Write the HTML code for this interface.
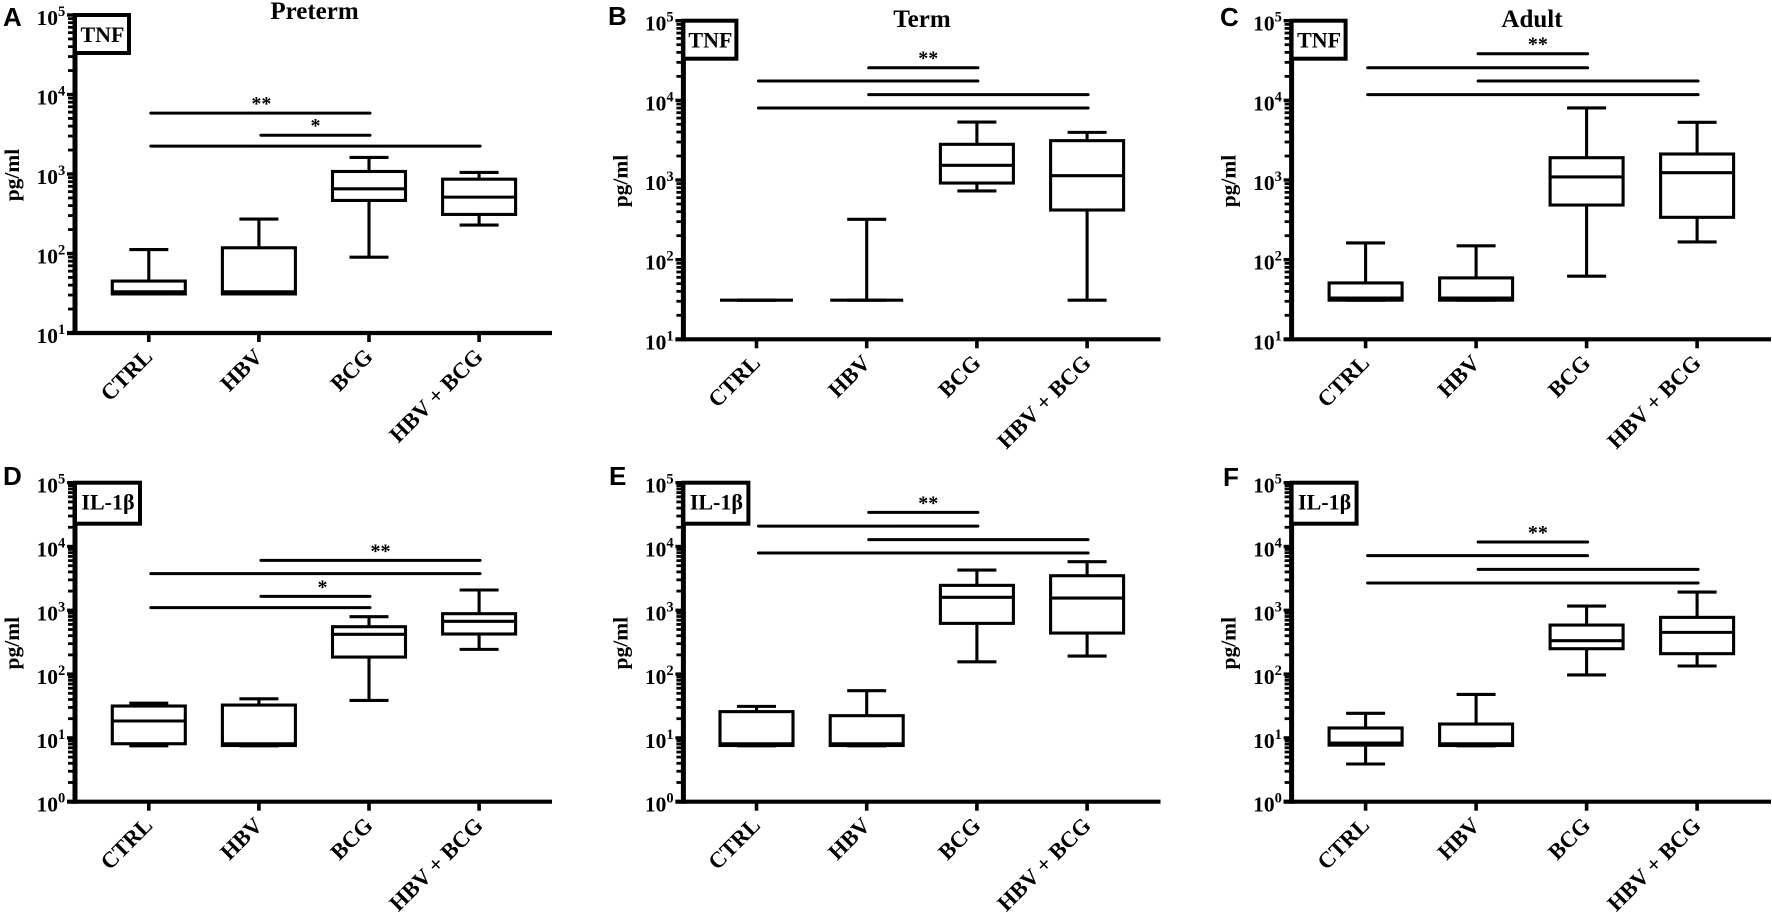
<!DOCTYPE html>
<html lang="en">
<head>
<meta charset="utf-8">
<title>Cytokine box plots</title>
<style>
html,body{margin:0;padding:0;background:#fff;}
svg{display:block;filter:blur(0.35px);}
text{font-family:"Liberation Serif",serif;font-weight:bold;fill:#000;}
text.panel-letter{font-family:"Liberation Sans",sans-serif;}
</style>
</head>
<body>
<svg id="figure" xmlns="http://www.w3.org/2000/svg" width="1772" height="912" viewBox="0 0 1772 912"></svg>
<script>
// Shared categories and labels
const categories = ['CTRL', 'HBV', 'BCG', 'HBV + BCG'];
const yLabel = 'pg/ml';
const tnfExponents = [1, 2, 3, 4, 5];
const il1Exponents = [0, 1, 2, 3, 4, 5];
const letters = ['A', 'B', 'C', 'D', 'E', 'F'];
const titles = ['Preterm', 'Term', 'Adult', '', '', ''];
const cytokines = ['TNF', 'TNF', 'TNF', 'IL-1β', 'IL-1β', 'IL-1β'];

// Box values: min, q1, median, q3, max (pg/ml)
const aCtrl = [31, 31, 33, 45, 112];
const aHbv = [31, 31, 33, 118, 271];
const aBcg = [90, 465, 652, 1076, 1614];
const aBoth = [228, 310, 512, 861, 1045];

const bCtrl = [31, 31, 31, 31, 31];
const bHbv = [31, 31, 31, 31, 321];
const bBcg = [728, 916, 1528, 2805, 5346];
const bBoth = [31, 420, 1133, 3119, 3963];

const cCtrl = [31, 31, 33, 51, 162];
const cHbv = [31, 31, 33, 59, 149];
const cBcg = [62, 485, 1091, 1905, 8020];
const cBoth = [167, 340, 1236, 2120, 5300];

const dCtrl = [7.5, 8.1, 18.4, 31.6, 35];
const dHbv = [7.5, 7.6, 8.1, 32.7, 41];
const dBcg = [38.7, 185, 420, 553, 794];
const dBoth = [244, 425, 671, 885, 2080];

const eCtrl = [7.5, 7.6, 8.1, 25.8, 31.2];
const eHbv = [7.5, 7.6, 8.1, 22.3, 55];
const eBcg = [156, 624, 1596, 2460, 4275];
const eBoth = [192, 440, 1556, 3483, 5780];

const fCtrl = [3.9, 7.7, 8.3, 14.3, 24.3];
const fHbv = [7.5, 7.6, 8.1, 16.5, 48];
const fBcg = [97, 250, 334, 587, 1167];
const fBoth = [134, 209, 451, 775, 1932];

// Significance bars: from-group, to-group, height in pg/ml, marker
const aSigFrom = [0, 1, 0];
const aSigTo = [2, 2, 3];
const aSigValue = [5822, 3075, 2239];
const aSigMark = ['**', '*', ''];

const bSigFrom = [1, 0, 1, 0];
const bSigTo = [2, 2, 3, 3];
const bSigValue = [25700, 17500, 11780, 8020];
const bSigMark = ['**', '', '', ''];

const cSigFrom = [1, 0, 1, 0];
const cSigTo = [2, 2, 3, 3];
const cSigValue = [38500, 25700, 17500, 11780];
const cSigMark = ['**', '', '', ''];

const dSigFrom = [1, 0, 1, 0];
const dSigTo = [3, 3, 2, 2];
const dSigValue = [6067, 3750, 1653, 1099];
const dSigMark = ['**', '', '*', ''];

const eSigFrom = [1, 0, 1, 0];
const eSigTo = [2, 2, 3, 3];
const eSigValue = [34300, 20900, 12790, 7900];
const eSigMark = ['**', '', '', ''];

const fSigFrom = [1, 0, 1, 0];
const fSigTo = [2, 2, 3, 3];
const fSigValue = [11750, 7180, 4385, 2674];
const fSigMark = ['**', '', '', ''];

const SVG_NS = 'http://www.w3.org/2000/svg';
const figure = document.getElementById('figure');

function add(parent, tag, attrs, content) {
  const node = document.createElementNS(SVG_NS, tag);
  for (const key in attrs) node.setAttribute(key, attrs[key]);
  if (content !== undefined) node.textContent = content;
  parent.appendChild(node);
  return node;
}

function drawPanel(p) {
  const group = add(figure, 'g', {});
  
  

  const exps = p.exponents;
  const minExp = exps[0];
  const maxExp = exps[exps.length - 1];
  const yScale = v => p.bottom - (Math.log10(v) - minExp) * (p.bottom - p.top) / (maxExp - minExp);
  const xScale = i => p.x0 + i * p.step;

  // Panel letter
  const letter = add(group, 'text', { x: p.letterX, y: p.letterY, 'font-size': 26, class: 'panel-letter' }, p.letter);
  
  

  // Title
  if (p.title) {
    const title = add(group, 'text', { x: p.titleX, y: p.titleY, 'font-size': 25, 'text-anchor': 'middle' }, p.title);
    
    
  }

  // Y axis minor ticks
  for (let e = minExp; e < maxExp; e++) {
    for (let m = 2; m <= 9; m++) {
      const y = yScale(m * Math.pow(10, e));
      const minor = add(group, 'line', { x1: p.spine - 7, x2: p.spine, y1: y, y2: y, stroke: '#000', 'stroke-width': 2.8 });
      
      
    }
  }

  // Y axis major ticks and labels
  exps.forEach(e => {
    const y = yScale(Math.pow(10, e));
    const major = add(group, 'line', { x1: p.spine - 8, x2: p.spine, y1: y, y2: y, stroke: '#000', 'stroke-width': 3.4 });
    
    
    const label = add(group, 'text', { x: p.spine - 38.5, y: y + 10, 'font-size': 21.5 });
    
    
    add(label, 'tspan', {}, '10');
    add(label, 'tspan', { 'font-size': 14.5, dy: -9 }, String(e));
  });

  // Axis lines
  const spine = add(group, 'line', { x1: p.spine, x2: p.spine, y1: p.top - 1.5, y2: p.bottom + 2, stroke: '#000', 'stroke-width': 5 });
  
  
  const xAxis = add(group, 'line', { x1: p.spine - 8, x2: p.axisEnd, y1: p.bottom, y2: p.bottom, stroke: '#000', 'stroke-width': 4.2 });
  
  

  // Y axis title
  const midY = (p.top + p.bottom) / 2;
  const yTitleX = p.spine - 56;
  const yTitle = add(group, 'text', { x: yTitleX, y: midY + 1, 'font-size': 21.5, 'text-anchor': 'middle', transform: 'rotate(-90 ' + yTitleX + ' ' + (midY + 1) + ')' }, yLabel);
  
  

  // X ticks and labels
  categories.forEach((cat, i) => {
    const x = xScale(i);
    const tick = add(group, 'line', { x1: x, x2: x, y1: p.bottom, y2: p.bottom + 9, stroke: '#000', 'stroke-width': 3.6 });
    
    
    const lx = x + 5;
    const ly = p.bottom + 25;
    const label = add(group, 'text', { x: lx, y: ly, 'font-size': 22.5, 'text-anchor': 'end', transform: 'rotate(-45 ' + lx + ' ' + ly + ')' }, cat);
    
    
  });

  // Box plots
  p.series.forEach((s, i) => {
    const cx = xScale(i);
    const box = add(group, 'g', { fill: 'none', stroke: '#000', 'stroke-width': 3.1 });
    
    
    const yMin = yScale(s[0]);
    const yQ1 = yScale(s[1]);
    const yMed = yScale(s[2]);
    const yQ3 = yScale(s[3]);
    const yMax = yScale(s[4]);
    const upper = add(box, 'line', { x1: cx, x2: cx, y1: yQ3, y2: yMax });
    
    
    const lower = add(box, 'line', { x1: cx, x2: cx, y1: yQ1, y2: yMin });
    
    
    const capTop = add(box, 'line', { x1: cx - 19.5, x2: cx + 19.5, y1: yMax, y2: yMax });
    
    
    const capBottom = add(box, 'line', { x1: cx - 19.5, x2: cx + 19.5, y1: yMin, y2: yMin });
    
    
    const rect = add(box, 'rect', { x: cx - 36.5, y: yQ3, width: 73, height: yQ1 - yQ3 });
    
    
    const median = add(box, 'line', { x1: cx - 36.5, x2: cx + 36.5, y1: yMed, y2: yMed });
    
    
  });

  // Significance bars
  p.sigValue.forEach((v, i) => {
    const y = yScale(v);
    const x1 = xScale(p.sigFrom[i]) + 2;
    const x2 = xScale(p.sigTo[i]) + 1;
    const bar = add(group, 'line', { x1: x1, x2: x2, y1: y, y2: y, stroke: '#000', 'stroke-width': 3, 'stroke-linecap': 'round' });
    
    
    if (p.sigMark[i]) {
      const mark = add(group, 'text', { x: (x1 + x2) / 2 + p.markDx[i], y: y - 3, 'font-size': 20, 'text-anchor': 'middle' }, p.sigMark[i]);
      
      
    }
  });

  // Cytokine label box
  const labelBox = add(group, 'rect', { x: p.spine, y: p.top, width: p.boxW, height: p.boxH, fill: '#fff', stroke: '#000', 'stroke-width': 4 });
  
  
  const labelText = add(group, 'text', { x: p.spine + p.boxW / 2 + 0.5, y: p.top + 27, 'font-size': 22, 'text-anchor': 'middle' }, p.cytokine);
  
  
}

drawPanel({ letter: letters[0], title: titles[0], cytokine: cytokines[0], exponents: tnfExponents,
  series: [aCtrl, aHbv, aBcg, aBoth], sigFrom: aSigFrom, sigTo: aSigTo, sigValue: aSigValue, sigMark: aSigMark, markDx: [1, 0, 0],
  spine: 75, top: 15, bottom: 333, x0: 148.8, step: 110.1, axisEnd: 552, boxW: 54, boxH: 38,
  letterX: 3, letterY: 26, titleX: 314.5, titleY: 19 });

drawPanel({ letter: letters[1], title: titles[1], cytokine: cytokines[1], exponents: tnfExponents,
  series: [bCtrl, bHbv, bBcg, bBoth], sigFrom: bSigFrom, sigTo: bSigTo, sigValue: bSigValue, sigMark: bSigMark, markDx: [5, 0, 0, 0],
  spine: 683.4, top: 20.7, bottom: 339.3, x0: 756.5, step: 110.2, axisEnd: 1160.5, boxW: 53, boxH: 38,
  letterX: 608, letterY: 25, titleX: 922, titleY: 27 });

drawPanel({ letter: letters[2], title: titles[2], cytokine: cytokines[2], exponents: tnfExponents,
  series: [cCtrl, cHbv, cBcg, cBoth], sigFrom: cSigFrom, sigTo: cSigTo, sigValue: cSigValue, sigMark: cSigMark, markDx: [5, 0, 0, 0],
  spine: 1291.6, top: 20.7, bottom: 339.3, x0: 1365.6, step: 110.5, axisEnd: 1771, boxW: 54, boxH: 38,
  letterX: 1220, letterY: 26, titleX: 1532, titleY: 27 });

drawPanel({ letter: letters[3], title: titles[3], cytokine: cytokines[3], exponents: il1Exponents,
  series: [dCtrl, dHbv, dBcg, dBoth], sigFrom: dSigFrom, sigTo: dSigTo, sigValue: dSigValue, sigMark: dSigMark, markDx: [10, 0, 7, 0],
  spine: 75, top: 482.7, bottom: 801.7, x0: 148.8, step: 110.1, axisEnd: 552, boxW: 65, boxH: 41,
  letterX: 3, letterY: 485, titleX: 0, titleY: 0 });

drawPanel({ letter: letters[4], title: titles[4], cytokine: cytokines[4], exponents: il1Exponents,
  series: [eCtrl, eHbv, eBcg, eBoth], sigFrom: eSigFrom, sigTo: eSigTo, sigValue: eSigValue, sigMark: eSigMark, markDx: [5, 0, 0, 0],
  spine: 683.4, top: 482.7, bottom: 801.7, x0: 756.5, step: 110.2, axisEnd: 1160.5, boxW: 65, boxH: 41,
  letterX: 609, letterY: 485, titleX: 0, titleY: 0 });

drawPanel({ letter: letters[5], title: titles[5], cytokine: cytokines[5], exponents: il1Exponents,
  series: [fCtrl, fHbv, fBcg, fBoth], sigFrom: fSigFrom, sigTo: fSigTo, sigValue: fSigValue, sigMark: fSigMark, markDx: [5, 0, 0, 0],
  spine: 1291.6, top: 482.7, bottom: 801.7, x0: 1365.6, step: 110.5, axisEnd: 1771, boxW: 65, boxH: 41,
  letterX: 1223, letterY: 486, titleX: 0, titleY: 0 });
</script>
</body>
</html>
